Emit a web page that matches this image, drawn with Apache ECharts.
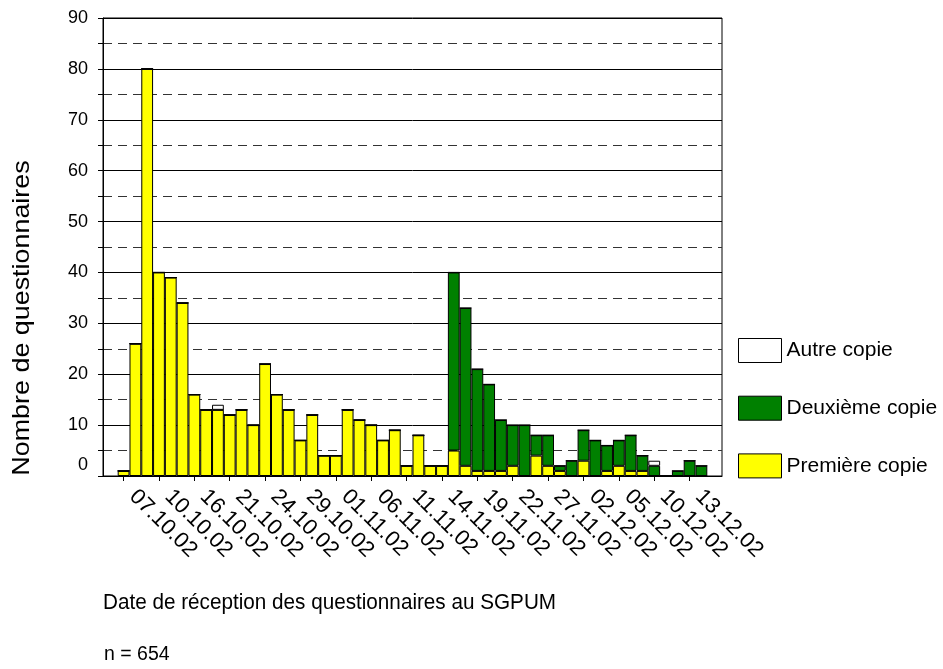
<!DOCTYPE html>
<html>
<head>
<meta charset="utf-8">
<script src="https://cdn.jsdelivr.net/npm/echarts@6/dist/echarts.min.js"></script>
<style>
  html, body { margin: 0; padding: 0; background: #fff; }
  #chart { width: 943px; height: 669px; }
</style>
</head>
<body>
<div id="chart"></div>
<script>
// one label every third reception day
const dateLabels = ['07.10.02', '10.10.02', '16.10.02', '21.10.02', '24.10.02', '29.10.02',
  '01.11.02', '06.11.02', '11.11.02', '14.11.02', '19.11.02', '22.11.02', '27.11.02',
  '02.12.02', '05.12.02', '10.12.02', '13.12.02']

const premiere = [1, 26, 80, 40, 39, 34, 16, 13, 13, 12, 13, 10, 22, 16, 13, 7, 12, 4, 4, 13,
  11, 10, 7, 9, 2, 8, 2, 2, 5, 2, 1, 1, 1, 2, 0, 4, 2, 1, 0, 3,
  0, 1, 2, 1, 1, 0, 0, 0, 0, 0]
const deuxieme = [0, 0, 0, 0, 0, 0, 0, 0, 0, 0, 0, 0, 0, 0, 0, 0, 0, 0, 0, 0,
  0, 0, 0, 0, 0, 0, 0, 0, 35, 31, 20, 17, 10, 8, 10, 4, 6, 1, 3, 6,
  7, 5, 5, 7, 3, 2, 0, 1, 3, 2]
const autre = [0, 0, 0, 0, 0, 0, 0, 0, 1, 0, 0, 0, 0, 0, 0, 0, 0, 0, 0, 0,
  0, 0, 0, 0, 0, 0, 0, 0, 0, 0, 0, 0, 0, 0, 0, 0, 0, 0, 0, 0,
  0, 0, 0, 0, 0, 1, 0, 0, 0, 0]

// reception days, labelled every third one
const days = premiere.map((v, i) => (i % 3 === 0 ? dateLabels[i / 3] : 'j' + i))
const font = 'Arial, "Liberation Sans", sans-serif'

const chart = echarts.init(document.getElementById('chart'))

function barSeries(name, values, color) {
  return {
    name: name,
    type: 'bar',
    stack: 'total',
    xAxisIndex: 1,
    yAxisIndex: 1,
    barCategoryGap: '0%',
    data: values,
    itemStyle: {
      color: color,
      borderColor: '#000',
      borderWidth: 1
    },
    animation: false
  }
}

chart.setOption({
  textStyle: { fontFamily: font },
  grid: [
    // frame with the gridlines
    { left: 103, right: 221, top: 18, bottom: 193, show: true, borderColor: '#000', borderWidth: 1 },
    // the bars sit inside, with an empty margin at both ends
    { left: 117.7, right: 235.7, top: 18, bottom: 193 }
  ],
  legend: {
    orient: 'vertical',
    left: 733,
    top: 333,
    itemWidth: 43,
    itemHeight: 24,
    itemGap: 32.7,
    icon: 'rect',
    data: ['Autre copie', 'Deuxième copie', 'Première copie'],
    itemStyle: { borderColor: '#000', borderWidth: 1 },
    textStyle: { fontSize: 21, color: '#000', fontFamily: font, lineHeight: 24 }
  },
  xAxis: [
    {
      gridIndex: 0,
      type: 'value',
      min: 0,
      max: 1,
      splitLine: { show: false },
      axisLine: { show: true, lineStyle: { color: '#000', width: 1 } },
      axisTick: { show: false },
      axisLabel: { show: false }
    },
    {
      gridIndex: 1,
      type: 'category',
      data: days,
      axisLine: { show: false },
      axisTick: {
        show: true,
        interval: 2,
        alignWithLabel: true,
        length: 5,
        lineStyle: { color: '#000' }
      },
      axisLabel: {
        interval: 2,
        rotate: -45,
        margin: 8,
        padding: [0, 0, 0, 13],
        fontSize: 22,
        color: '#000',
        fontFamily: font
      }
    }
  ],
  yAxis: [
    {
      gridIndex: 0,
      type: 'value',
      min: 0,
      max: 90,
      interval: 10,
      axisLine: { show: true, lineStyle: { color: '#000', width: 1 } },
      axisTick: { show: true, length: 5, lineStyle: { color: '#000' } },
      minorTick: { show: true, splitNumber: 2, length: 5, lineStyle: { color: '#000' } },
      splitLine: { show: true, lineStyle: { color: '#000', width: 1 } },
      minorSplitLine: { show: true, lineStyle: { color: '#333', width: 1, type: [9, 6] } },
      axisLabel: {
        margin: 15,
        fontSize: 18,
        color: '#000',
        fontFamily: font,
        formatter: v => (v === 0 ? '{z|0}' : String(v)),
        rich: {
          z: { fontSize: 18, color: '#000', fontFamily: font, padding: [0, 0, 22, 0] }
        }
      }
    },
    {
      gridIndex: 1,
      type: 'value',
      min: 0,
      max: 90,
      interval: 10,
      show: false
    }
  ],
  graphic: [
    {
      type: 'text',
      x: 22,
      y: 318,
      rotation: Math.PI / 2,
      scaleX: 1.12,
      style: {
        text: 'Nombre de questionnaires',
        font: '24px ' + font,
        fill: '#000',
        textAlign: 'center',
        textVerticalAlign: 'middle'
      }
    },
    {
      type: 'text',
      x: 103,
      y: 603,
      scaleY: 1.1,
      style: {
        text: 'Date de réception des questionnaires au SGPUM',
        font: '20.7px ' + font,
        fill: '#000',
        textAlign: 'left',
        textVerticalAlign: 'middle'
      }
    },
    {
      type: 'text',
      x: 104,
      y: 655,
      style: {
        text: 'n = 654',
        font: '19.5px ' + font,
        fill: '#000',
        textAlign: 'left',
        textVerticalAlign: 'middle'
      }
    }
  ],
  series: [
    barSeries('Première copie', premiere, '#ffff00'),
    barSeries('Deuxième copie', deuxieme, '#008000'),
    barSeries('Autre copie', autre, '#ffffff')
  ]
})
</script>
</body>
</html>
